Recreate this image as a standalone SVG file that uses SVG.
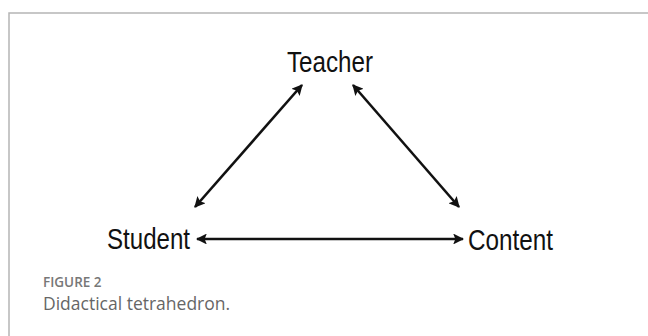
<svg xmlns="http://www.w3.org/2000/svg" width="648" height="336" viewBox="0 0 648 336">
<style>
.lbl{font-family:"Liberation Sans",Arial,sans-serif;font-size:29px;fill:#111}
.cap1{font-family:"Open Sans","Noto Sans",sans-serif;font-size:13.5px;font-weight:600;fill:#777}
.cap2{font-family:"Open Sans","Noto Sans",sans-serif;font-size:17.5px;fill:#666}
.edge{stroke:#111;stroke-width:2.6;fill:none;marker-start:url(#ah);marker-end:url(#ah)}
</style>
<defs>
<marker id="ah" viewBox="0 0 10 10" refX="9" refY="5" markerWidth="4.2" markerHeight="4.2" orient="auto-start-reverse" markerUnits="strokeWidth">
<path d="M0,0 L10,5 L0,10 L2,5 Z" fill="#111"/>
</marker>
</defs>
<rect x="0" y="0" width="648" height="336" fill="#fff"/>
<path d="M9,336 V13 H648" fill="none" stroke="#b5b5b5" stroke-width="1.5"/>
<g id="teacher"><text class="lbl" x="287" y="72" textLength="86" lengthAdjust="spacingAndGlyphs">Teacher</text></g>
<g id="student"><text class="lbl" x="107" y="249" textLength="83" lengthAdjust="spacingAndGlyphs">Student</text></g>
<g id="content"><text class="lbl" x="468" y="250" textLength="85" lengthAdjust="spacingAndGlyphs">Content</text></g>
<g id="connectors">
<line class="edge" x1="302" y1="85" x2="195" y2="207"/>
<line class="edge" x1="353" y1="85" x2="459" y2="207"/>
<line class="edge" x1="197" y1="239" x2="463" y2="239"/>
</g>
<g id="caption">
<text class="cap1" x="43" y="287">FIGURE 2</text>
<text class="cap2" x="43" y="310">Didactical tetrahedron.</text>
</g>
</svg>
